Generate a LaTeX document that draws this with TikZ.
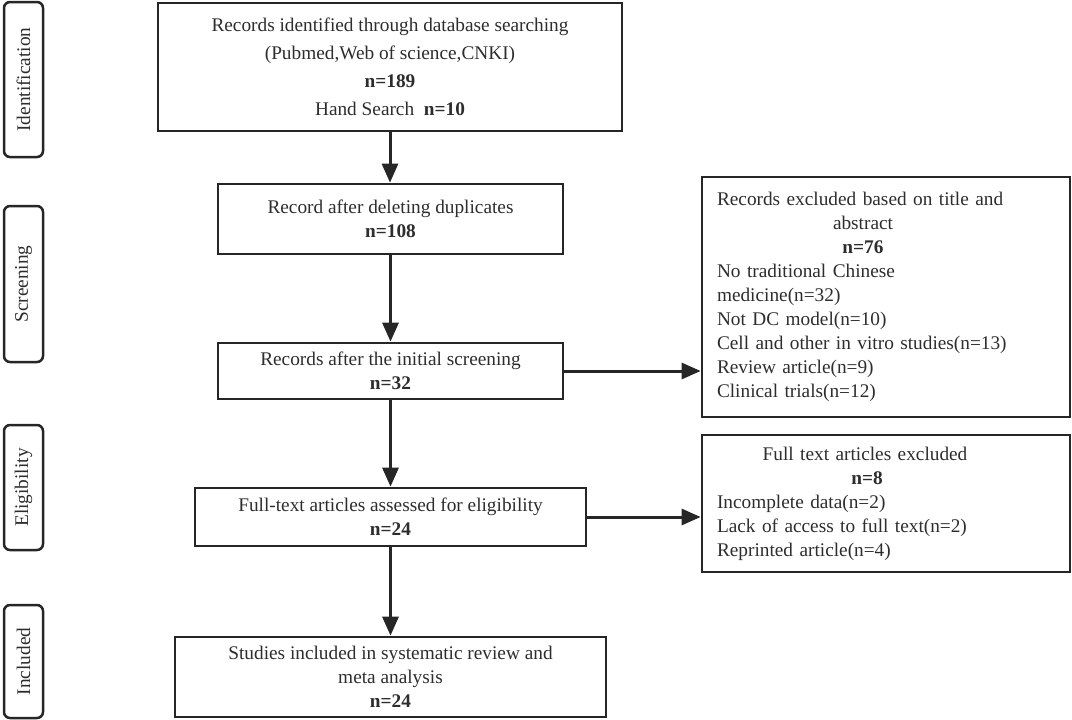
\documentclass[tikz,border=0pt]{standalone}
\usepackage{fontspec}
\setmainfont{Liberation Serif}
\usetikzlibrary{arrows.meta}
\definecolor{linecol}{RGB}{38,38,38}
\definecolor{txtcol}{RGB}{45,45,45}
\newcommand{\fsz}{\fontsize{19.3}{24}\selectfont}
\newcommand{\fsztop}{\fontsize{19.3}{28}\selectfont}
\begin{document}
\begin{tikzpicture}[x=1pt,y=-1pt,
 every node/.style={text=txtcol, font=\fsz},
 box/.style={draw=linecol, line width=2.7pt, inner sep=0pt, align=center},
 exbox/.style={draw=linecol, line width=2.7pt, inner xsep=15pt, inner ysep=0pt, text width=338pt, align=left},
 lab/.style={draw=linecol, line width=2.5pt, rounded corners=6pt, inner sep=0pt, rotate=90, minimum height=39pt},
 arr/.style={draw=linecol, line width=3pt, -{Triangle[length=19pt,width=16pt]}}
]
\useasboundingbox (0,0) rectangle (1072,720);

% phase labels
\node[lab, minimum width=155pt] (lid) at (23.5,79.5) {Identification};
\node[lab, minimum width=156pt] (lsc) at (23.5,284) {Screening};
\node[lab, minimum width=125pt] (lel) at (23.5,487.5) {Eligibility};
\node[lab, minimum width=113pt] (lin) at (23.5,661.5) {Included};

% main column
\node[box, font=\fsztop, minimum width=464pt, minimum height=128pt] (b1) at (390,67)
 {Records identified through database searching\\(Pubmed,Web of science,CNKI)\\\textbf{n=189}\\Hand Search\ \ \textbf{n=10}};
\node[box, minimum width=345pt, minimum height=70pt] (b2) at (390.5,219)
 {Record after deleting duplicates\\\textbf{n=108}};
\node[box, minimum width=345pt, minimum height=56pt] (b3) at (390.5,371)
 {Records after the initial screening\\\textbf{n=32}};
\node[box, minimum width=391pt, minimum height=58pt] (b4) at (390.5,517)
 {Full-text articles assessed for eligibility\\\textbf{n=24}};
\node[box, minimum width=431pt, minimum height=80pt] (b5) at (390.5,677)
 {Studies included in systematic review and\\meta analysis\\\textbf{n=24}};

% exclusion boxes
\node[exbox, minimum height=240pt] (rb1) at (886,297)
 {Records excluded based on title and\\
  \makebox[292pt]{abstract}\\
  \makebox[292pt]{\textbf{n=76}}\\
  No traditional Chinese\\
  medicine(n=32)\\
  Not DC model(n=10)\\
  Cell and other in vitro studies(n=13)\\
  Review article(n=9)\\
  Clinical trials(n=12)};
\node[exbox, minimum height=137pt] (rb2) at (886,503.5)
 {\makebox[296pt]{Full text articles excluded}\\
  \makebox[300pt]{\textbf{n=8}}\\
  Incomplete data(n=2)\\
  Lack of access to full text(n=2)\\
  Reprinted article(n=4)};

% connectors
\draw[arr] (b1.south) -- (b1.south |- b2.north);
\draw[arr] (b2.south) -- (b2.south |- b3.north);
\draw[arr] (b3.south) -- (b3.south |- b4.north);
\draw[arr] (b4.south) -- (b4.south |- b5.north);
\draw[arr] (b3.east) -- (b3.east -| rb1.west);
\draw[arr] (b4.east) -- (b4.east -| rb2.west);
\end{tikzpicture}
\end{document}
